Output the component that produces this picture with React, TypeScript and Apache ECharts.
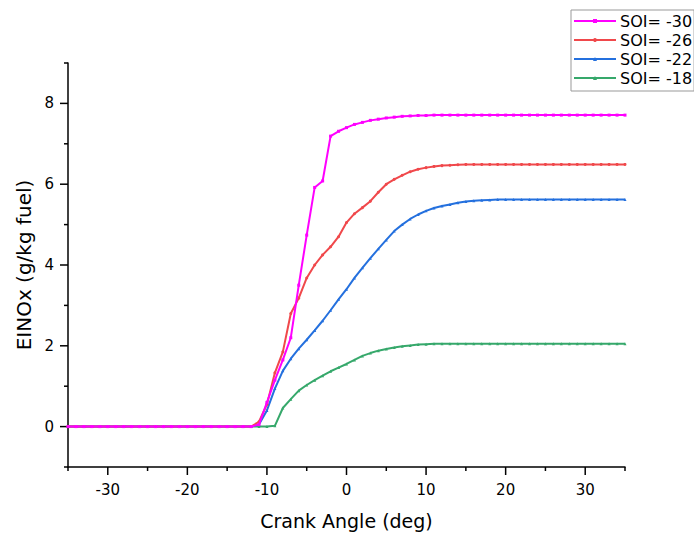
import React, { useEffect, useRef } from "react";
import * as echarts from "echarts";

const angles = [
  -35, -34, -33, -32, -31, -30, -29, -28, -27, -26, -25, -24, -23, -22, -21, -20, -19, -18, -17, -16,
  -15, -14, -13, -12, -11, -10, -9, -8, -7, -6, -5, -4, -3, -2, -1, 0, 1, 2, 3, 4,
  5, 6, 7, 8, 9, 10, 11, 12, 13, 14, 15, 16, 17, 18, 19, 20, 21, 22, 23, 24,
  25, 26, 27, 28, 29, 30, 31, 32, 33, 34, 35,
];

const soi30 = [
  0, 0, 0, 0, 0, 0, 0, 0, 0, 0, 0, 0, 0, 0, 0, 0, 0, 0, 0, 0,
  0, 0, 0, 0, 0.05, 0.6, 1.15, 1.65, 2.2, 3.5, 4.74, 5.92, 6.08, 7.19, 7.31, 7.4, 7.48, 7.53, 7.58, 7.61,
  7.64, 7.66, 7.68, 7.69, 7.7, 7.7, 7.71, 7.71, 7.71, 7.71, 7.71, 7.71, 7.71, 7.71, 7.71, 7.71, 7.71, 7.71, 7.71, 7.71,
  7.71, 7.71, 7.71, 7.71, 7.71, 7.71, 7.71, 7.71, 7.71, 7.71, 7.71,
];

const soi26 = [
  0, 0, 0, 0, 0, 0, 0, 0, 0, 0, 0, 0, 0, 0, 0, 0, 0, 0, 0, 0,
  0, 0, 0, 0, 0.12, 0.55, 1.33, 1.85, 2.8, 3.18, 3.68, 4.0, 4.25, 4.45, 4.7, 5.05, 5.27, 5.42, 5.58, 5.8,
  6.0, 6.12, 6.22, 6.31, 6.37, 6.41, 6.44, 6.46, 6.47, 6.48, 6.49, 6.49, 6.49, 6.49, 6.49, 6.49, 6.49, 6.49, 6.49, 6.49,
  6.49, 6.49, 6.49, 6.49, 6.49, 6.49, 6.49, 6.49, 6.49, 6.49, 6.49,
];

const soi22 = [
  0, 0, 0, 0, 0, 0, 0, 0, 0, 0, 0, 0, 0, 0, 0, 0, 0, 0, 0, 0,
  0, 0, 0, 0, 0.05, 0.4, 0.94, 1.38, 1.68, 1.93, 2.15, 2.38, 2.62, 2.88, 3.15, 3.4, 3.68, 3.93, 4.17, 4.4,
  4.62, 4.84, 5.0, 5.14, 5.25, 5.34, 5.41, 5.46, 5.5, 5.54, 5.57, 5.59, 5.6, 5.61, 5.62, 5.62, 5.62, 5.62, 5.62, 5.62,
  5.62, 5.62, 5.62, 5.62, 5.62, 5.62, 5.62, 5.62, 5.62, 5.62, 5.62,
];

const soi18 = [
  0, 0, 0, 0, 0, 0, 0, 0, 0, 0, 0, 0, 0, 0, 0, 0, 0, 0, 0, 0,
  0, 0, 0, 0, 0, 0, 0.02, 0.46, 0.68, 0.89, 1.03, 1.15, 1.26, 1.37, 1.46, 1.55, 1.65, 1.75, 1.82, 1.88,
  1.92, 1.96, 1.99, 2.01, 2.03, 2.04, 2.05, 2.05, 2.05, 2.05, 2.05, 2.05, 2.05, 2.05, 2.05, 2.05, 2.05, 2.05, 2.05, 2.05,
  2.05, 2.05, 2.05, 2.05, 2.05, 2.05, 2.05, 2.05, 2.05, 2.05, 2.05,
];

const seriesNames = ["SOI= -30", "SOI= -26", "SOI= -22", "SOI= -18"];
const seriesValues = [soi30, soi26, soi22, soi18];
const seriesColors = ["#ff00ff", "#f0484b", "#2470de", "#36a86b"];
const seriesSymbols = ["rect", "circle", "triangle", "triangle"];

const xMajorTicks = [-30, -20, -10, 0, 10, 20, 30];
const xMinorTicks = [-35, -25, -15, -5, 5, 15, 25, 35];
const yMajorTicks = [0, 2, 4, 6, 8];
const yMinorTicks = [-1, 1, 3, 5, 7, 9];

const X_MIN = -35;
const X_MAX = 35;
const Y_MIN = -1;
const Y_MAX = 9;

const FONT = "DejaVu Sans, Liberation Sans, Arial, sans-serif";

export default function App() {
  const ref = useRef<HTMLDivElement>(null);
  useEffect(() => {
    if (!ref.current) return;
    document.body.style.margin = "0";
    document.body.style.overflow = "hidden";
    const chart = echarts.init(ref.current, null, { renderer: "svg" });
    const axisLine = { show: true, onZero: false, lineStyle: { color: "#000", width: 1.5 } };

    const xTickData = [
      ...xMajorTicks.map((v) => [v, Y_MIN, 8]),
      ...xMinorTicks.map((v) => [v, Y_MIN, 4]),
    ];
    const yTickData = [
      ...yMajorTicks.map((v) => [X_MIN, v, 8]),
      ...yMinorTicks.map((v) => [X_MIN, v, 4]),
    ];

    const tickSeries = (data: number[][], horizontal: boolean) => ({
      type: "custom",
      silent: true,
      clip: false,
      z: 1,
      data,
      encode: { x: 0, y: 1 },
      renderItem: (params: any, api: any) => {
        const p = api.coord([api.value(0), api.value(1)]);
        const len = api.value(2);
        return {
          type: "line",
          shape: horizontal
            ? { x1: p[0], y1: p[1], x2: p[0] - len, y2: p[1] }
            : { x1: p[0], y1: p[1], x2: p[0], y2: p[1] + len },
          style: { stroke: "#000", lineWidth: 1.5 },
        };
      },
    });

    chart.setOption({
      animation: false,
      backgroundColor: "#fff",
      textStyle: { fontFamily: FONT },
      grid: { left: 68, right: 69, top: 63, bottom: 66, containLabel: false },
      tooltip: { show: false },
      legend: {
        orient: "vertical",
        left: 571,
        top: 10,
        padding: [3, 2, 5, 2],
        itemGap: 3,
        itemWidth: 42,
        itemHeight: 5,
        borderColor: "#999",
        borderWidth: 1,
        borderRadius: 0,
        textStyle: { fontSize: 16, color: "#000", fontFamily: FONT, padding: [0, 0, 0, -1] },
        data: seriesNames,
      },
      xAxis: {
        type: "value",
        min: X_MIN,
        max: X_MAX,
        interval: 5,
        name: "Crank Angle (deg)",
        nameLocation: "middle",
        nameGap: 44,
        nameTextStyle: { fontSize: 19, color: "#000", fontFamily: FONT },
        axisLine,
        axisTick: { show: false },
        axisLabel: {
          show: true,
          fontSize: 15,
          color: "#000",
          margin: 15,
          fontFamily: FONT,
          formatter: (v: number) => (xMajorTicks.indexOf(v) >= 0 ? String(v) : ""),
        },
        splitLine: { show: false },
      },
      yAxis: {
        type: "value",
        min: Y_MIN,
        max: Y_MAX,
        interval: 1,
        name: "EINOx (g/kg fuel)",
        nameLocation: "middle",
        nameGap: 30,
        nameTextStyle: { fontSize: 20, color: "#000", fontFamily: FONT },
        axisLine,
        axisTick: { show: false },
        axisLabel: {
          show: true,
          fontSize: 15,
          color: "#000",
          margin: 14,
          fontFamily: FONT,
          formatter: (v: number) => (yMajorTicks.indexOf(v) >= 0 ? String(v) : ""),
        },
        splitLine: { show: false },
      },
      series: [
        ...seriesNames.map((name, i) => ({
          name,
          type: "line",
          data: angles.map((a, j) => [a, seriesValues[i][j]]),
          color: seriesColors[i],
          lineStyle: { width: 2, color: seriesColors[i] },
          itemStyle: { color: seriesColors[i] },
          symbol: seriesSymbols[i],
          symbolSize: 3,
          showSymbol: true,
          smooth: false,
          z: 10 - i,
        })),
        tickSeries(xTickData, false),
        tickSeries(yTickData, true),
      ],
    });
    return () => chart.dispose();
  }, []);
  return <div ref={ref} style={{ width: 694, height: 535 }} />;
}
